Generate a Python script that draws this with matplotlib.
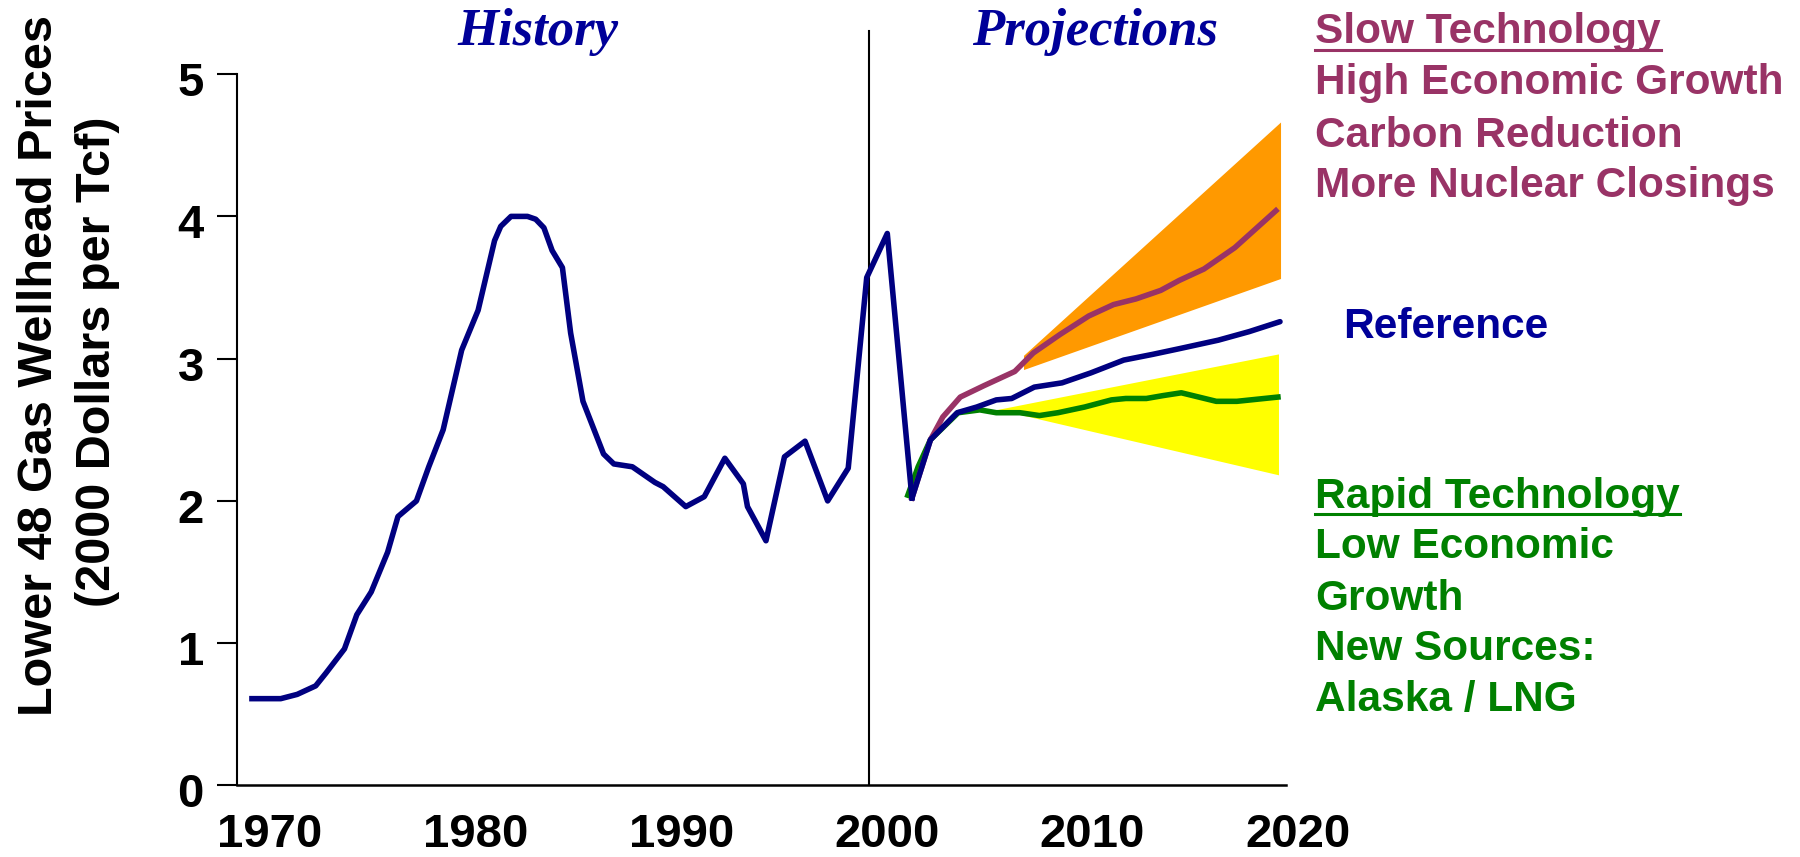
import matplotlib
matplotlib.use("Agg")
import matplotlib.pyplot as plt
from matplotlib.transforms import ScaledTranslation
from matplotlib.lines import Line2D

# Lower 48 wellhead prices, history
hist_years = [1970.0, 1971.4, 1972.2, 1973.1, 1973.6, 1974.5, 1975.1, 1975.8, 1976.6,
              1977.1, 1978.0, 1978.6, 1979.3, 1980.2, 1981.0, 1981.8, 1982.1, 1982.6,
              1983.4, 1983.8, 1984.2, 1984.6, 1985.1, 1985.5, 1986.1, 1987.1, 1987.6,
              1988.5, 1989.6, 1990.0, 1991.1, 1992.0, 1993.0, 1993.9, 1994.1, 1995.0,
              1995.9, 1996.9, 1998.0, 1999.0, 1999.9, 2000.9, 2002.1]
hist_price = [0.61, 0.61, 0.64, 0.70, 0.79, 0.96, 1.20, 1.36, 1.64,
              1.89, 2.00, 2.24, 2.50, 3.06, 3.34, 3.83, 3.93, 4.00,
              4.00, 3.98, 3.92, 3.76, 3.64, 3.18, 2.70, 2.33, 2.26,
              2.24, 2.13, 2.10, 1.96, 2.03, 2.30, 2.12, 1.96, 1.72,
              2.31, 2.42, 2.00, 2.23, 3.57, 3.88, 2.02]

# Projections
ref_years = [2002.1, 2003.0, 2004.3, 2005.25, 2006.2, 2006.95, 2008.05, 2009.4,
             2010.8, 2012.4, 2013.8, 2015.1, 2017.0, 2018.5, 2020.0]
ref_price = [2.02, 2.43, 2.62, 2.66, 2.71, 2.72, 2.80, 2.83,
             2.90, 2.99, 3.03, 3.07, 3.13, 3.19, 3.26]

slow_years = [2002.1, 2003.0, 2003.6, 2004.45, 2005.6, 2007.1, 2008.0, 2009.3,
              2010.7, 2011.9, 2013.0, 2014.2, 2015.1, 2016.3, 2017.8, 2019.8]
slow_price = [2.02, 2.43, 2.59, 2.73, 2.81, 2.91, 3.04, 3.17,
              3.30, 3.38, 3.42, 3.48, 3.55, 3.63, 3.78, 4.04]

rapid_years = [2001.9, 2002.4, 2003.0, 2004.35, 2005.4, 2006.2, 2007.35, 2008.3, 2009.2,
               2010.5, 2011.8, 2012.5, 2013.5, 2014.3, 2015.2, 2016.9, 2017.9, 2019.9]
rapid_price = [2.04, 2.24, 2.43, 2.62, 2.64, 2.62, 2.62, 2.60, 2.62,
               2.66, 2.71, 2.72, 2.72, 2.74, 2.76, 2.70, 2.70, 2.73]

# Range bands
high_band_x = [2007.55, 2007.55, 2020.05, 2020.05]
high_band_y = [2.92, 3.02, 4.66, 3.56]
low_band_x = [2006.3, 2019.95, 2019.95]
low_band_y = [2.64, 3.03, 2.18]

year_ticks = [1970, 1980, 1990, 2000, 2010, 2020]
price_ticks = [0, 1, 2, 3, 4, 5]

NAVY = "#000080"
TITLE_BLUE = "#000099"
PURPLE = "#993366"
GREEN = "#008000"
SANS = "Liberation Sans"
SERIF = "Liberation Serif"
LW = 4.0

W, H = 1800, 857
fig = plt.figure(figsize=(W / 100, H / 100), dpi=100)
ax = fig.add_axes([0.1314, 0.0835, 0.5828, 0.830])


def px(x, y):
    return x / W, 1 - y / H


ax.fill(low_band_x, low_band_y, color="#FFFF00", lw=0, zorder=1)
ax.fill(high_band_x, high_band_y, color="#FF9900", lw=0, zorder=1)

ax.plot(rapid_years, rapid_price, color=GREEN, lw=LW, zorder=3)
ax.plot(slow_years, slow_price, color=PURPLE, lw=LW, zorder=3)
ax.plot(hist_years, hist_price, color=NAVY, lw=LW, zorder=4)
ax.plot(ref_years, ref_price, color=NAVY, lw=LW, zorder=4, solid_capstyle="round")

# divider between history and projections
ax.plot([2000, 2000], [0, 5.3], color="black", lw=1.5, zorder=2, clip_on=False)

ax.set_xlim(1969.25, 2020.27)
ax.set_ylim(0, 5)
for s in ["top", "right"]:
    ax.spines[s].set_visible(False)
ax.spines["left"].set_linewidth(1.5)
ax.spines["bottom"].set_linewidth(1.8)

ax.set_xticks(year_ticks)
ax.set_yticks(price_ticks)
ax.tick_params(axis="x", length=0, pad=20)
ax.tick_params(axis="y", length=14.5, width=1.5, pad=9)
for lab in ax.get_xticklabels() + ax.get_yticklabels():
    lab.set_fontfamily(SANS)
    lab.set_fontweight("bold")
    lab.set_fontsize(34)
for lab in ax.get_xticklabels():
    lab.set_transform(lab.get_transform() + ScaledTranslation(0.18, 0, fig.dpi_scale_trans))
for lab in ax.get_yticklabels():
    lab.set_transform(lab.get_transform() + ScaledTranslation(0, -0.05, fig.dpi_scale_trans))

# y axis title, two lines
ylab = dict(rotation=90, rotation_mode="anchor", ha="center", va="baseline",
            fontfamily=SANS, fontweight="bold", fontsize=35, color="black")
fig.text(*px(52, 365), "Lower 48 Gas Wellhead Prices", **ylab)
fig.text(*px(110, 362), "(2000 Dollars per Tcf)", **ylab)

head = dict(ha="center", va="baseline", fontfamily=SERIF, fontweight="bold",
            fontstyle="italic", fontsize=38, color=TITLE_BLUE)
fig.text(*px(538, 45), "History", **head)
fig.text(*px(1095, 45), "Projections", **head)

side = dict(ha="left", va="baseline", fontfamily=SANS, fontweight="bold", fontsize=30.5)
slow_lines = ["Slow Technology", "High Economic Growth", "Carbon Reduction",
              "More Nuclear Closings"]
slow_base = [43.3, 94.3, 146.7, 196.7]
rapid_lines = ["Rapid Technology", "Low Economic", "Growth", "New Sources:",
               "Alaska / LNG"]
rapid_base = [508.3, 558.5, 609.5, 660, 711.5]

slow_txt = [fig.text(*px(1315, y), s, color=PURPLE, **side)
            for s, y in zip(slow_lines, slow_base)]
rapid_txt = [fig.text(*px(1315, y), s, color=GREEN, **side)
             for s, y in zip(rapid_lines, rapid_base)]
fig.text(*px(1343, 338.3), "Reference", color=TITLE_BLUE, **side)

# underline the scenario headings
fig.canvas.draw()
rend = fig.canvas.get_renderer()
for t, y, c in [(slow_txt[0], 49.5, PURPLE), (rapid_txt[0], 514, GREEN)]:
    bb = t.get_window_extent(rend)
    fig.add_artist(Line2D([bb.x0 / W, bb.x1 / W], [1 - y / H, 1 - y / H],
                          transform=fig.transFigure, color=c, lw=2.2))

fig.savefig("out.png", dpi=100)
